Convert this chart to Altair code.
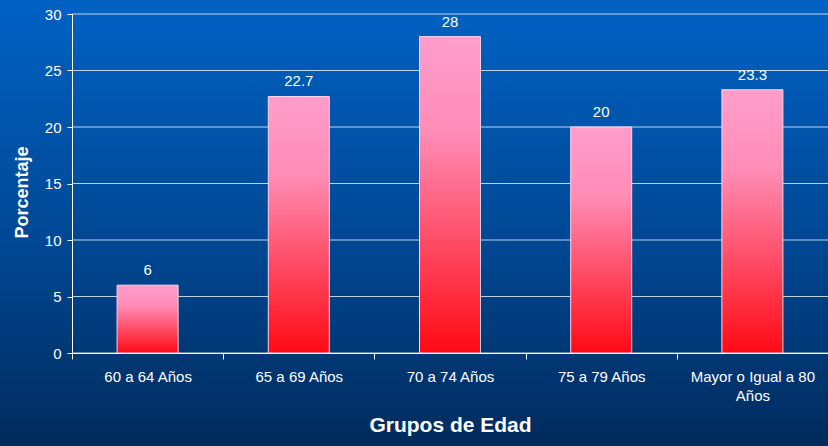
import altair as alt
import pandas as pd

categories = ["60 a 64 Años", "65 a 69 Años", "70 a 74 Años", "75 a 79 Años", "Mayor o Igual a 80 Años"]
values = [6, 22.7, 28, 20, 23.3]
grid_values = [0, 5, 10, 15, 20, 25, 30]

W, H = 756, 339
PL, PT, PR, PB = 72, 14, 0, 93
FONT = "Liberation Sans"

df = pd.DataFrame({"grupo": categories, "pct": values})
grid_df = pd.DataFrame({"v": grid_values})
one = pd.DataFrame({"a": [0]})

bg_grad = alt.LinearGradient(
    gradient="linear", x1=0, y1=0, x2=0, y2=1,
    stops=[alt.GradientStop(color="#0062c4", offset=0),
           alt.GradientStop(color="#004793", offset=0.55),
           alt.GradientStop(color="#002b5c", offset=1)])

bar_grad = alt.LinearGradient(
    gradient="linear", x1=0, y1=0, x2=0, y2=1,
    stops=[alt.GradientStop(color="#ff9dcc", offset=0),
           alt.GradientStop(color="#ff8db6", offset=0.3),
           alt.GradientStop(color="#ff0a14", offset=1)])

yscale = alt.Scale(domain=[0, 30], nice=False)
xscale = alt.Scale(paddingInner=0, paddingOuter=0)

y_axis = alt.Axis(
    title="Porcentaje", titleColor="white", titleFont=FONT, titleFontSize=18,
    titleFontWeight="bold", titlePadding=13, titleY=178,
    values=grid_values, labelColor="white", labelFont=FONT, labelFontSize=15,
    labelPadding=6, domainColor="white", tickColor="white", tickSize=5,
    grid=False, zindex=1)

x_axis = alt.Axis(
    title="Grupos de Edad", titleColor="white", titleFont=FONT, titleFontSize=21,
    titleFontWeight="bold", titlePadding=11,
    labelColor="white", labelFont=FONT, labelFontSize=15, labelAngle=0,
    labelPadding=10, labelLineHeight=19,
    labelExpr="datum.label == 'Mayor o Igual a 80 Años' ? ['Mayor o Igual a 80', 'Años'] : datum.label",
    domainColor="white", tickColor="white", tickSize=6, tickBand="extent",
    grid=False, zindex=1)

bg = alt.Chart(one).mark_rect(fill=bg_grad).encode(
    x=alt.value(-PL), x2=alt.value(W + PR), y=alt.value(-PT), y2=alt.value(H + PB))

grid = alt.Chart(grid_df).mark_rule(color="#ffffff", strokeWidth=1, opacity=0.75).encode(
    y=alt.Y("v:Q", scale=yscale, axis=y_axis))

bars = alt.Chart(df).mark_bar(width=61, fill=bar_grad, stroke="#ffd3e3", strokeWidth=1).encode(
    x=alt.X("grupo:N", sort=categories, scale=xscale, axis=x_axis),
    y=alt.Y("pct:Q", scale=yscale, axis=y_axis))

labels = alt.Chart(df).mark_text(dy=-15, color="white", font=FONT, fontSize=15).encode(
    x=alt.X("grupo:N", sort=categories, scale=xscale, axis=x_axis),
    y=alt.Y("pct:Q", scale=yscale, axis=y_axis),
    text=alt.Text("pct:Q", format="~g"))

chart = alt.layer(bg, grid, bars, labels).properties(
    width=W, height=H,
    padding={"left": PL, "top": PT, "right": PR, "bottom": PB},
    autosize=alt.AutoSizeParams(type="none"),
    background="#002b5c",
).configure_view(stroke=None)

chart.save("out.html", embed_options={"renderer": "svg", "actions": False})
